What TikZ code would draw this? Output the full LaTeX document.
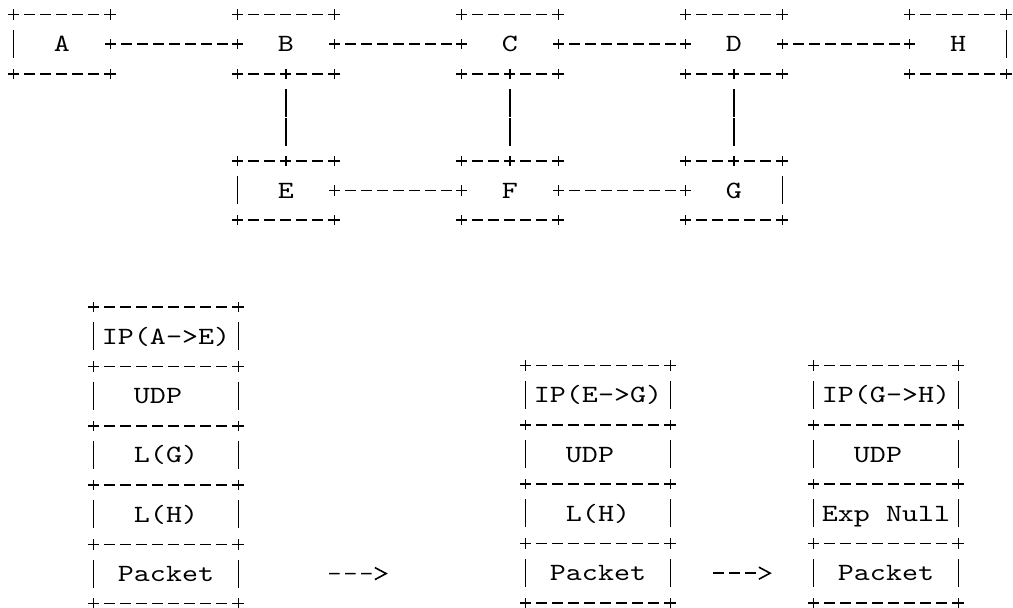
\documentclass[tikz,border=0pt]{standalone}
\usepackage{fontspec}
\newfontfamily\asciifont{lmmono10-regular.otf}[FakeStretch=1.23]
\usetikzlibrary{positioning,arrows.meta}
\tikzset{
  wire/.style={line width=0.8pt,dash pattern=on 5.2pt off 2.8pt,dash phase=2.6pt},
  bar/.style={line width=0.8pt,shorten <=7.625pt,shorten >=7.625pt,dash pattern=on 14pt off 0.625pt},
  flow/.style={line width=0.8pt,dash pattern=on 5.2pt off 2.8pt on 5.2pt off 2.8pt on 5.2pt off 40pt,-{Straight Barb[length=5.6pt,width=6pt]}},
  router/.style={minimum width=48pt,minimum height=29.25pt,inner sep=0pt,font=\asciifont\fontsize{12.4}{12.4}\selectfont,text height=7.6pt,text depth=0pt},
  cell/.style={router,minimum width=72pt}
}
\newcommand\joint[1]{\draw[line width=0.8pt] (#1) +(-2.6pt,0) -- +(2.6pt,0) +(0,-2.6pt) -- +(0,2.6pt);}
\begin{document}
\begin{tikzpicture}[x=8pt,y=-14.625pt]
 \useasboundingbox (-0.875,-0.513) rectangle (62.4375,20.27);
 % network
 \foreach \n/\c/\r in {A/3/1,B/17/1,C/31/1,D/45/1,H/59/1,E/17/6,F/31/6,G/45/6}{\node[router] (\n) at (\c,\r) {\n};
  \draw[wire] (\n.north west) -- (\n.north east); \draw[wire] (\n.south west) -- (\n.south east);
  \foreach \c in {north west,north east,south west,south east}{\joint{\n.\c}}}
 \foreach \s/\t in {A.east/B.west,B.east/C.west,C.east/D.west,D.east/H.west,E.east/F.west,F.east/G.west}{\draw[wire] (\s) -- (\t); \joint{\s}\joint{\t}}
 \foreach \s/\t in {B.south/E.north,C.south/F.north,D.south/G.north}{\draw[bar] (\s) -- (\t); \joint{\s}\joint{\t}}
 \foreach \n/\side in {A/west,H/east,E/west,G/east} \draw[bar] (\n.north \side) -- (\n.south \side);
 % label stacks
 \node[cell] (ip1) at (9.5,11) {IP(A->E)};
 \node[cell,below=0pt of ip1] (udp1) {UDP\hphantom{D}};
 \node[cell,below=0pt of udp1] (lg1) {L(G)};
 \node[cell,below=0pt of lg1] (lh1) {L(H)};
 \node[cell,below=0pt of lh1] (pay1) {Packet};
 \node[cell] (ip2) at (36.5,13) {IP(E->G)};
 \node[cell,below=0pt of ip2] (udp2) {UDP\hphantom{D}};
 \node[cell,below=0pt of udp2] (lh2) {L(H)};
 \node[cell,below=0pt of lh2] (pay2) {Packet};
 \node[cell] (ip3) at (54.5,13) {IP(G->H)};
 \node[cell,below=0pt of ip3] (udp3) {UDP\hphantom{D}};
 \node[cell,below=0pt of udp3] (en3) {Exp Null};
 \node[cell,below=0pt of en3] (pay3) {Packet};
 \foreach \n in {ip1,udp1,lg1,lh1,pay1,ip2,udp2,lh2,pay2,ip3,udp3,en3,pay3}{
  \draw[bar] (\n.north west) -- (\n.south west); \draw[bar] (\n.north east) -- (\n.south east);
  \draw[wire] (\n.north west) -- (\n.north east); \joint{\n.north west}\joint{\n.north east}}
 \foreach \n in {pay1,pay2,pay3}{\draw[wire] (\n.south west) -- (\n.south east); \joint{\n.south west}\joint{\n.south east}}
 \draw[flow,shorten <=45.4pt,shorten >=68.9pt] (pay1) -- (pay2);
 \draw[flow,shorten <=21.4pt,shorten >=20.9pt] (pay2) -- (pay3);
\end{tikzpicture}
\end{document}
